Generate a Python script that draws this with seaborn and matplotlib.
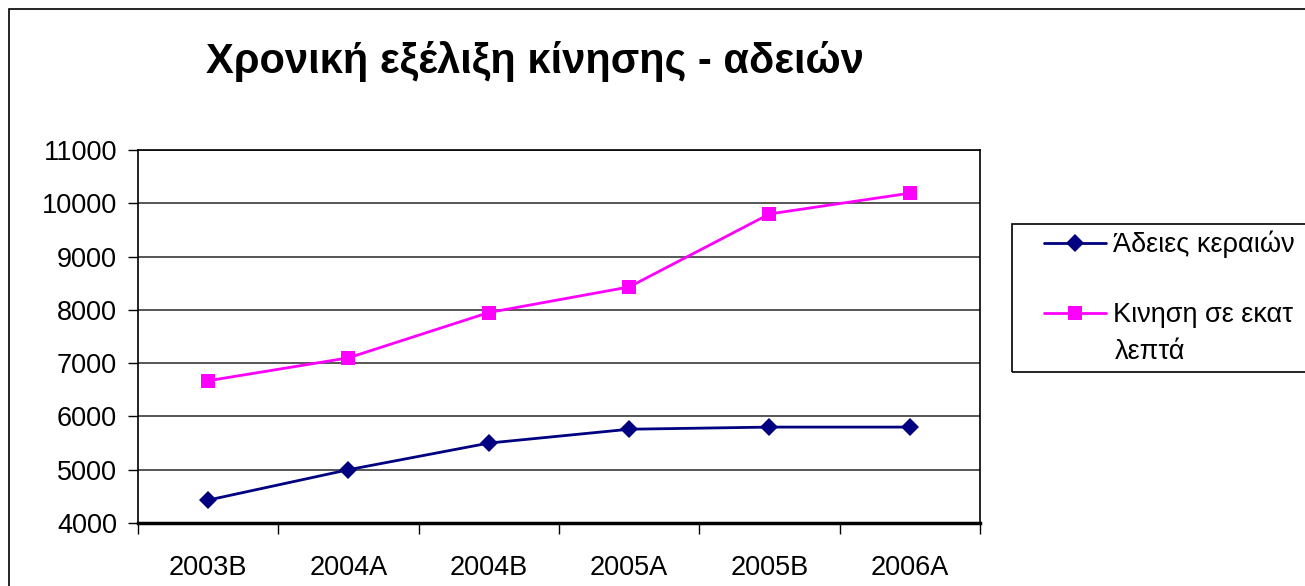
import matplotlib
matplotlib.use("Agg")
import matplotlib.pyplot as plt
import seaborn as sns
import pandas as pd
from matplotlib.patches import Rectangle

sns.set_theme(style="white")
plt.rcParams['font.family'] = ['Liberation Sans', 'DejaVu Sans']
plt.rcParams['text.color'] = 'black'
plt.rcParams['xtick.color'] = 'black'
plt.rcParams['ytick.color'] = 'black'

periods = ['2003B', '2004A', '2004B', '2005A', '2005B', '2006A']
licences = [4430, 5000, 5500, 5760, 5800, 5800]
traffic = [6670, 7100, 7950, 8430, 9800, 10190]
series_names = ['Άδειες κεραιών', 'Κινηση σε εκατ']
series_name_tail = 'λεπτά'   # second line of the traffic label
y_ticks = [4000, 5000, 6000, 7000, 8000, 9000, 10000, 11000]

df = pd.DataFrame({
    'pos': list(range(len(periods))) * 2,
    'value': licences + traffic,
    'series': [series_names[0]] * len(periods) + [series_names[1]] * len(periods),
})

fig = plt.figure(figsize=(13.05, 5.86), dpi=100)
fig.patch.set_facecolor('white')
ax = fig.add_axes([0.1057, 0.1075, 0.6452, 0.6365])

sns.lineplot(data=df, x='pos', y='value', hue='series', style='series',
             palette=['#000080', '#FF00FF'], markers=['D', 's'], dashes=False,
             markersize=9.5, linewidth=2, markeredgewidth=0, ax=ax)

ax.set_xlim(-0.5, len(periods) - 0.5)
ax.set_ylim(y_ticks[0], y_ticks[-1])
ax.set_yticks(y_ticks)
ax.set_yticklabels([str(t) for t in y_ticks], fontsize=19.5)
ax.set_xticks([i + 0.5 for i in range(-1, len(periods))])
ax.set_xticklabels([])
ax.set_xticks(range(len(periods)), minor=True)
ax.set_xticklabels(periods, minor=True, fontsize=19.5)
ax.tick_params(axis='x', which='minor', length=0, pad=23)
ax.tick_params(axis='x', which='major', length=8, width=1, direction='out', bottom=True)
ax.tick_params(axis='y', length=7, width=1, direction='out', left=True, pad=8)
ax.yaxis.grid(True, color='#3a3a3a', linewidth=1.2)
ax.set_xlabel('')
ax.set_ylabel('')
for side in ax.spines.values():
    side.set_color('black')
    side.set_linewidth(1.2)
ax.spines['bottom'].set_linewidth(2.5)

# legend frame drawn separately so that it runs off the right edge like the original
fig.patches.append(Rectangle((1012 / 1305, 1 - 372 / 586), 0.3, 148 / 586,
                             transform=fig.transFigure, fill=False,
                             edgecolor='black', linewidth=1.2))
leg = ax.legend(loc='upper left', bbox_to_anchor=(1044 / 1305, 1 - 231 / 586),
                bbox_transform=fig.transFigure, fontsize=19.5, frameon=False,
                handlelength=2.3, labelspacing=1.62, borderpad=0,
                handletextpad=0.25, borderaxespad=0)
fig.text(1115 / 1305, 1 - 352 / 586, series_name_tail, ha='left', va='center',
         fontsize=19.5)

fig.text(0.41, 0.895, 'Χρονική εξέλιξη κίνησης - αδειών', ha='center', va='center',
         fontsize=30, fontweight='bold')

fig.patches.append(Rectangle((0.0069, -0.1), 1.2, 1.0846, transform=fig.transFigure,
                             fill=False, edgecolor='black', linewidth=1.2))

fig.savefig('out.png', dpi=100, facecolor='white')
